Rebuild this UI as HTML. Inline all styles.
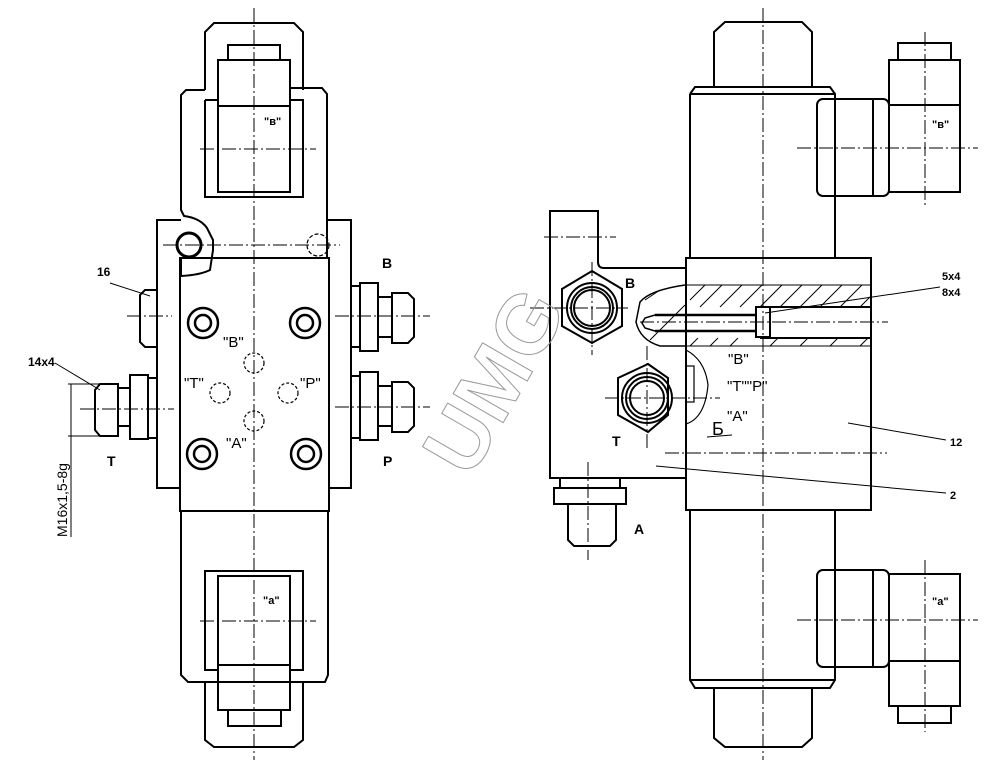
<!DOCTYPE html>
<html><head><meta charset="utf-8"><style>html,body{margin:0;padding:0;background:#fff}svg{display:block}</style></head><body>
<svg width="1007" height="771" viewBox="0 0 1007 771" xmlns="http://www.w3.org/2000/svg" font-family="Liberation Sans, sans-serif">
<g fill="none" stroke="#000" stroke-width="2">
<!-- LEFT VIEW -->
<path d="M205,90 V32 L214,23 H294 L303,32 V90"/>
<rect x="228" y="45" width="52" height="15"/>
<rect x="218" y="60" width="72" height="132"/>
<line x1="218" y1="106" x2="290" y2="106"/>
<path d="M205,90 H186 L181,95 V210 L184,216 Q200,218 207,228 L213,240 L213,250 L210,270 Q200,275 181,276 V258"/>
<path d="M290,88 H322 L327,94 V258"/>
<path d="M205,100 V197 H303 V100 H290"/>
<line x1="205" y1="100" x2="218" y2="100"/>
<path d="M181,220 H157 V488 H181"/>
<path d="M327,220 H351 V488 H329"/>
<rect x="180" y="258" width="149" height="253"/>
<line x1="213" y1="258" x2="329" y2="258"/>
<circle cx="189" cy="245" r="12" stroke-width="3"/>
<circle cx="318" cy="245" r="11" stroke-dasharray="4,2" stroke-width="1.2"/>
<path d="M181,511 V675 L188,682 H325 L328,675 V511"/>
<path d="M218,670 H205 V571 H303 V670 H290"/>
<rect x="218" y="576" width="72" height="134"/>
<line x1="218" y1="665" x2="290" y2="665"/>
<path d="M205,682 V740 L214,747 H294 L303,740 V682"/>
<rect x="228" y="710" width="53" height="16"/>
<g stroke-width="2.5">
<circle cx="203" cy="323" r="15"/><circle cx="203" cy="323" r="8"/>
<circle cx="305" cy="323" r="15"/><circle cx="305" cy="323" r="8"/>
<circle cx="202" cy="454" r="15"/><circle cx="202" cy="454" r="8"/>
<circle cx="306" cy="454" r="15"/><circle cx="306" cy="454" r="8"/>
</g>
<g stroke-width="1.2" stroke-dasharray="3,2">
<circle cx="254" cy="363" r="10"/><circle cx="220" cy="393" r="10"/>
<circle cx="288" cy="393" r="10"/><circle cx="254" cy="421" r="10"/>
</g>
<path d="M157,290 H145 L140,295 V342 L145,347 H157"/>
<rect x="130" y="375" width="18" height="64"/>
<rect x="118" y="388" width="12" height="38"/>
<path d="M118,384 H100 L95,390 V430 L100,436 H118 Z"/>
<line x1="148" y1="378" x2="157" y2="378"/><line x1="148" y1="438" x2="157" y2="438"/>
<rect x="360" y="283" width="18" height="68"/>
<line x1="351" y1="286" x2="360" y2="286"/><line x1="351" y1="347" x2="360" y2="347"/>
<rect x="378" y="297" width="14" height="40"/>
<path d="M392,293 H408 L414,299 V337 L408,343 H392 Z"/>
<rect x="360" y="372" width="18" height="68"/>
<line x1="351" y1="376" x2="360" y2="376"/><line x1="351" y1="438" x2="360" y2="438"/>
<rect x="378" y="386" width="14" height="40"/>
<path d="M392,382 H408 L414,388 V426 L408,432 H392 Z"/>
<g stroke-width="1">
<line x1="68" y1="384" x2="100" y2="384"/><line x1="68" y1="436" x2="100" y2="436"/>
<line x1="71" y1="384" x2="71" y2="537"/>
<line x1="110" y1="283" x2="150" y2="296"/>
<line x1="55" y1="363" x2="100" y2="390"/>
</g>
<!-- RIGHT VIEW -->
<path d="M714,88 V32 L725,22 H802 L812,32 V88"/>
<path d="M690,94 L695,87 H830 L835,94 V257"/>
<line x1="690" y1="94" x2="690" y2="257"/>
<line x1="690" y1="94" x2="835" y2="94"/>
<rect x="817" y="99" width="72" height="97" rx="6"/>
<line x1="873" y1="99" x2="873" y2="196"/>
<rect x="889" y="60" width="71" height="132"/>
<line x1="889" y1="105" x2="960" y2="105"/>
<rect x="898" y="43" width="53" height="17"/>
<path d="M690,510 V680 L695,688 H830 L835,680 V510"/>
<line x1="690" y1="680" x2="835" y2="680"/>
<path d="M714,688 V738 L725,747 H802 L812,738 V688"/>
<rect x="817" y="570" width="72" height="97" rx="6"/>
<line x1="873" y1="570" x2="873" y2="667"/>
<rect x="889" y="574" width="71" height="132"/>
<line x1="889" y1="661" x2="960" y2="661"/>
<rect x="898" y="706" width="53" height="17"/>
<path d="M685,478 H550 V211 H598 V262 Q598,268 604,268 H685"/>
<rect x="686" y="258" width="185" height="252"/>
<path d="M685,285 Q650,290 640,302 L636,322 Q640,340 660,346 L686,346" stroke-width="1.5"/>
<line x1="760" y1="307" x2="871" y2="307"/>
<line x1="760" y1="338" x2="871" y2="338"/>
<rect x="756" y="307" width="14" height="30"/>
<line x1="655" y1="315" x2="756" y2="315" stroke-width="2.5"/>
<line x1="655" y1="331" x2="756" y2="331" stroke-width="2.5"/>
<path d="M655,315 L645,318 L642,323 L645,328 L655,331" stroke-width="1.5"/>
<g stroke-width="1">
<line x1="690" y1="300" x2="705" y2="285"/><line x1="700" y1="307" x2="722" y2="285"/>
<line x1="720" y1="307" x2="742" y2="285"/><line x1="740" y1="307" x2="762" y2="285"/>
<line x1="760" y1="307" x2="782" y2="285"/><line x1="780" y1="307" x2="802" y2="285"/>
<line x1="800" y1="307" x2="822" y2="285"/><line x1="820" y1="307" x2="842" y2="285"/>
<line x1="840" y1="307" x2="862" y2="285"/><line x1="860" y1="307" x2="871" y2="296"/>
<line x1="645" y1="300" x2="660" y2="290"/><line x1="650" y1="340" x2="685" y2="305"/>
<line x1="690" y1="346" x2="698" y2="338"/><line x1="710" y1="346" x2="718" y2="338"/>
<line x1="730" y1="346" x2="738" y2="338"/><line x1="770" y1="346" x2="778" y2="338"/>
<line x1="800" y1="346" x2="808" y2="338"/><line x1="830" y1="346" x2="838" y2="338"/>
<line x1="860" y1="346" x2="868" y2="338"/>
<line x1="685" y1="285" x2="871" y2="285"/><line x1="686" y1="346" x2="871" y2="346"/>
</g>
<polygon points="592,271 622,289 622,326 592,343 562,326 562,289"/>
<circle cx="592" cy="308" r="25"/><circle cx="592" cy="308" r="21"/><circle cx="592" cy="308" r="18"/>
<polygon points="648,364 668,378 668,415 648,432 618,415 618,378"/>
<circle cx="647" cy="398" r="25"/><circle cx="647" cy="398" r="21"/><circle cx="647" cy="398" r="17"/>
<path d="M686,350 Q705,360 708,385 Q705,418 686,424" stroke-width="1.2"/>
<rect x="686" y="366" width="8" height="36" stroke-width="1.2"/>
<rect x="560" y="478" width="60" height="10"/>
<rect x="554" y="488" width="72" height="16"/>
<path d="M568,504 V540 L574,546 H610 L616,540 V504"/>
<g stroke-width="1">
<line x1="765" y1="313" x2="940" y2="287"/>
<line x1="848" y1="423" x2="946" y2="440"/>
<line x1="656" y1="466" x2="946" y2="493"/>
<line x1="707" y1="437" x2="732" y2="435"/>
</g>
</g>
<g fill="none" stroke="#000" stroke-width="1" stroke-dasharray="14,3,2,3">
<line x1="254" y1="8" x2="254" y2="760"/>
<line x1="200" y1="149" x2="316" y2="149"/>
<line x1="200" y1="621" x2="316" y2="621"/>
<line x1="163" y1="245" x2="340" y2="245"/>
<line x1="127" y1="316" x2="172" y2="316"/>
<line x1="335" y1="316" x2="430" y2="316"/>
<line x1="80" y1="409" x2="174" y2="409"/>
<line x1="335" y1="407" x2="430" y2="407"/>
<line x1="763" y1="8" x2="763" y2="760"/>
<line x1="797" y1="148" x2="978" y2="148"/>
<line x1="797" y1="620" x2="978" y2="620"/>
<line x1="925" y1="32" x2="925" y2="205"/>
<line x1="925" y1="560" x2="925" y2="732"/>
<line x1="544" y1="237" x2="616" y2="237"/>
<line x1="530" y1="308" x2="628" y2="308"/>
<line x1="592" y1="262" x2="592" y2="355"/>
<line x1="605" y1="398" x2="720" y2="398"/>
<line x1="647" y1="346" x2="647" y2="450"/>
<line x1="665" y1="453" x2="887" y2="453"/>
<line x1="640" y1="322" x2="888" y2="322"/>
<line x1="588" y1="462" x2="588" y2="560"/>
</g>
<g font-size="14" font-weight="bold" fill="#000">
<text x="97" y="276" font-size="12">16</text>
<text x="28" y="366" font-size="12">14x4</text>
<text x="382" y="268">B</text>
<text x="107" y="466">T</text>
<text x="383" y="466">P</text>
<text x="264" y="125" font-size="11">"в"</text>
<text x="263" y="604" font-size="11">"а"</text>
<text x="625" y="288">B</text>
<text x="612" y="446">T</text>
<text x="634" y="534">A</text>
<text x="942" y="280" font-size="11">5x4</text>
<text x="942" y="296" font-size="11">8x4</text>
<text x="950" y="446" font-size="11">12</text>
<text x="950" y="499" font-size="11">2</text>
<text x="932" y="128" font-size="11">"в"</text>
<text x="932" y="605" font-size="11">"а"</text>
</g>
<g font-size="15" fill="#000">
<text x="223" y="347">"B"</text>
<text x="184" y="388">"T"</text>
<text x="300" y="388">"P"</text>
<text x="226" y="448">"A"</text>
<text x="728" y="364">"B"</text>
<text x="727" y="391">"T""P"</text>
<text x="727" y="421">"A"</text>
<text x="712" y="435" font-size="18">Б</text>
<text transform="translate(67,537) rotate(-90)" font-size="14">M16x1,5-8g</text>
</g>
<text transform="translate(470,480) rotate(-60)" font-size="84" font-weight="bold" fill="none" stroke="#999" stroke-width="1">UMG</text>
</svg>
</body></html>
